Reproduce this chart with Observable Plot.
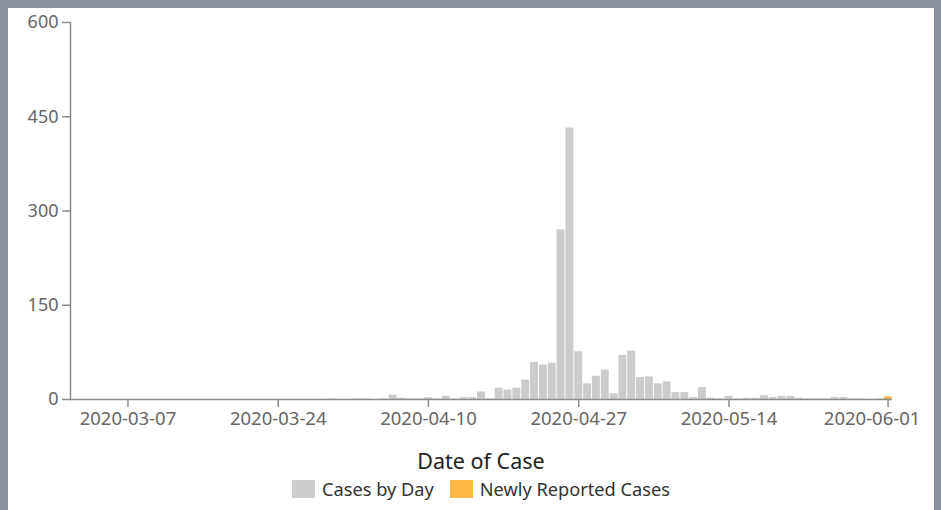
<!DOCTYPE html>
<html>
<head>
<meta charset="utf-8">
<script src="https://cdn.jsdelivr.net/npm/d3@7"></script>
<script src="https://cdn.jsdelivr.net/npm/@observablehq/plot@0.6"></script>
<style>
  html, body { margin: 0; padding: 0; }
  body { width: 941px; height: 510px; background: #8a919d; position: relative; overflow: hidden; font-family: "Noto Sans", "Open Sans", sans-serif; }
  #panel { position: absolute; left: 8px; top: 8px; width: 926px; height: 502px; background: #fff; }
  #chart { position: absolute; left: 0; top: 0; }
  #xtitle { position: absolute; left: 62px; width: 822px; top: 438px; text-align: center; font-size: 21.5px; color: #222; }
  #legend { position: absolute; left: 62px; width: 822px; top: 469px; text-align: center; font-size: 18.2px; color: #333; }
  .item { display: inline-flex; align-items: center; margin: 0 8px; }
  .sw { display: inline-block; width: 23px; height: 18px; margin-right: 7px; }
</style>
</head>
<body>
<div id="panel">
  <div id="chart"></div>
  <div id="xtitle">Date of Case</div>
  <div id="legend"></div>
</div>
<script>
// Categories: one per day from 2020-03-01 to 2020-06-01
const startDate = "2020-03-01";
const endDate = "2020-06-01";
const fmt = d3.utcFormat("%Y-%m-%d");
const dates = d3.utcDay.range(new Date(startDate), d3.utcDay.offset(new Date(endDate), 1)).map(fmt);

// Cases by Day (gray)
const casesByDay = [
  0,0,0,0,0,0,0,0,0,0,
  0,0,0,0,0,0,0,0,0,0,
  0,0,0,0,0,0,0,0,0,1,
  0,0,1,1,0,1,7,2,1,1,
  3,1,5,1,3,3,12,1,18,15,
  18,31,59,55,58,270,432,76,25,37,
  47,9,70,77,35,36,25,28,11,11,
  3,19,2,1,5,1,2,2,6,3,
  5,5,2,1,1,1,3,3,1,1,
  0,1,0
];
// Newly Reported Cases (orange)
const newlyReportedDates = ["2020-06-01"];
const newlyReportedValues = [4];

const yTicks = [0, 150, 300, 450, 600];
const xTickLabels = ["2020-03-07", "2020-03-24", "2020-04-10", "2020-04-27", "2020-05-14", "2020-06-01"];

const seriesNames = ["Cases by Day", "Newly Reported Cases"];
const seriesColors = ["#cccccc", "#fdb844"];

const grayData = dates.map((d, i) => ({date: d, value: casesByDay[i]}));
const orangeData = newlyReportedDates.map((d, i) => ({date: d, value: newlyReportedValues[i]}));

const axisColor = "#8c8c8c";
const labelColor = "#666";
const innerTicks = xTickLabels.slice(0, -1);
const lastTick = xTickLabels.slice(-1);

const plot = Plot.plot({
  width: 926,
  height: 421,
  marginLeft: 62,
  marginRight: 42,
  marginTop: 14,
  marginBottom: 30,
  style: {background: "transparent", fontFamily: "'Noto Sans', 'Open Sans', sans-serif", fontSize: "18px", color: labelColor},
  x: {type: "band", domain: dates, paddingInner: 0.1, paddingOuter: 0.05},
  y: {domain: [0, 600]},
  marks: [
    Plot.barY(grayData, {x: "date", y: "value", fill: seriesColors[0]}),
    Plot.barY(orangeData, {x: "date", y: "value", fill: seriesColors[1]}),
    Plot.frame({anchor: "left", stroke: axisColor, strokeWidth: 1.5}),
    Plot.ruleY([0], {stroke: axisColor, strokeWidth: 1.5}),
    Plot.axisY({ticks: yTicks, tickSize: 8, tickPadding: 4, label: null, stroke: axisColor, strokeWidth: 1.5, fill: labelColor}),
    Plot.axisX({ticks: innerTicks, tickSize: 8, tickPadding: 4, label: null, stroke: axisColor, strokeWidth: 1.5, fill: labelColor, fontSize: 18.5}),
    Plot.axisX({ticks: lastTick, tickSize: 8, tickPadding: 4, label: null, stroke: axisColor, strokeWidth: 1.5, fill: labelColor, fontSize: 18.5, text: null}),
    Plot.axisX({ticks: lastTick, tickSize: 0, tickPadding: 12, label: null, fill: labelColor, fontSize: 18.5, dx: -16})
  ]
});
document.getElementById("chart").appendChild(plot);

const legend = document.getElementById("legend");
seriesNames.forEach((name, i) => {
  const item = document.createElement("span");
  item.className = "item";
  const sw = document.createElement("span");
  sw.className = "sw";
  sw.style.background = seriesColors[i];
  item.appendChild(sw);
  item.appendChild(document.createTextNode(name));
  legend.appendChild(item);
});
</script>
</body>
</html>
